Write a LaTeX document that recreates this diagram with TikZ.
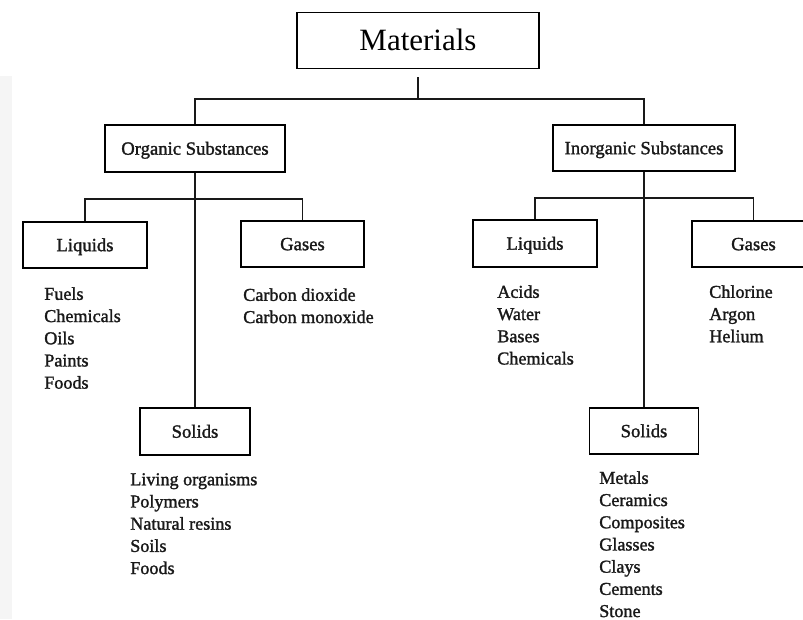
\documentclass[tikz,border=0pt]{standalone}
\usepackage{fontspec}
\setmainfont{Liberation Serif}
\newfontfamily\scanfont[FakeBold=1.5]{Liberation Serif}
\usepackage{tikz}
\usetikzlibrary{calc}

\tikzset{
	box/.style={draw, line width=1.1pt, inner sep=0pt, text height=9.3pt, text depth=0pt, text=black!90, font=\scanfont\fontsize{14}{16}\selectfont},
	items/.style={align=left, inner sep=0pt, anchor=north west, text=black!90, font=\scanfont\fontsize{13.6}{16.65}\selectfont},
	link/.style={line width=1.1pt, black!90},
}

\begin{document}
\begin{tikzpicture}[x=0.75pt, y=-0.75pt]
	\path [use as bounding box, clip] (0,0) rectangle (803,619);
	\fill [black!4] (0,76) rectangle (12,619);

	% top of the tree
	\node [draw, line width=1pt, inner sep=0pt, minimum width=181.5pt, minimum height=42pt, text height=15.4pt, text depth=0pt, font=\fontsize{23.25}{26}\selectfont] (materials) at (418,40.5) {Materials};
	\node [box, minimum width=135pt, minimum height=35.25pt] (organic) at (195,148.5) {Organic Substances};
	\node [box, minimum width=136.5pt, minimum height=34.5pt] (inorganic) at (644,148) {Inorganic Substances};

	% organic branch
	\node [box, minimum width=93pt, minimum height=34.5pt] (org liquids) at (85,245) {Liquids};
	\node [box, minimum width=92.25pt, minimum height=34.5pt] (org gases) at (302.5,244) {Gases};
	\node [box, minimum width=82.5pt, minimum height=35.25pt] (org solids) at (195,431.5) {Solids};

	% inorganic branch
	\node [box, minimum width=93pt, minimum height=35.25pt] (inorg liquids) at (535,243.5) {Liquids};
	\node [box, minimum width=92.25pt, minimum height=34.5pt] (inorg gases) at (753.5,244) {Gases};
	\node [box, minimum width=81.75pt, minimum height=34.5pt] (inorg solids) at (644,431) {Solids};

	% what each box holds
	\node [items] (org liquids list) at (44,287) {Fuels\\Chemicals\\Oils\\Paints\\Foods};
	\node [items] (org gases list) at (243,288) {Carbon dioxide\\Carbon monoxide};
	\node [items] (org solids list) at (130,473) {Living organisms\\Polymers\\Natural resins\\Soils\\Foods};
	\node [items] (inorg liquids list) at (497,285) {Acids\\Water\\Bases\\Chemicals};
	\node [items] (inorg gases list) at (709,285) {Chlorine\\Argon\\Helium};
	\node [items] (inorg solids list) at (599,471) {Metals\\Ceramics\\Composites\\Glasses\\Clays\\Cements\\Stone};

	% connectors
	\coordinate (top split) at (418,99);
	\coordinate (org split) at (195,199);
	\coordinate (inorg split) at (644,198);

	\draw [link, shorten <=6pt] (materials.south) -- (top split);
	\draw [link] (top split) -| (organic.north);
	\draw [link] (top split) -| (inorganic.north);

	\draw [link] (organic.south) -- (org solids.north);
	\draw [link] (org split) -| (org liquids.north);
	\draw [link] (org split) -| (org gases.north);

	\draw [link] (inorganic.south) -- (inorg solids.north);
	\draw [link] (inorg split) -| (inorg liquids.north);
	\draw [link] (inorg split) -| (inorg gases.north);
\end{tikzpicture}
\end{document}
